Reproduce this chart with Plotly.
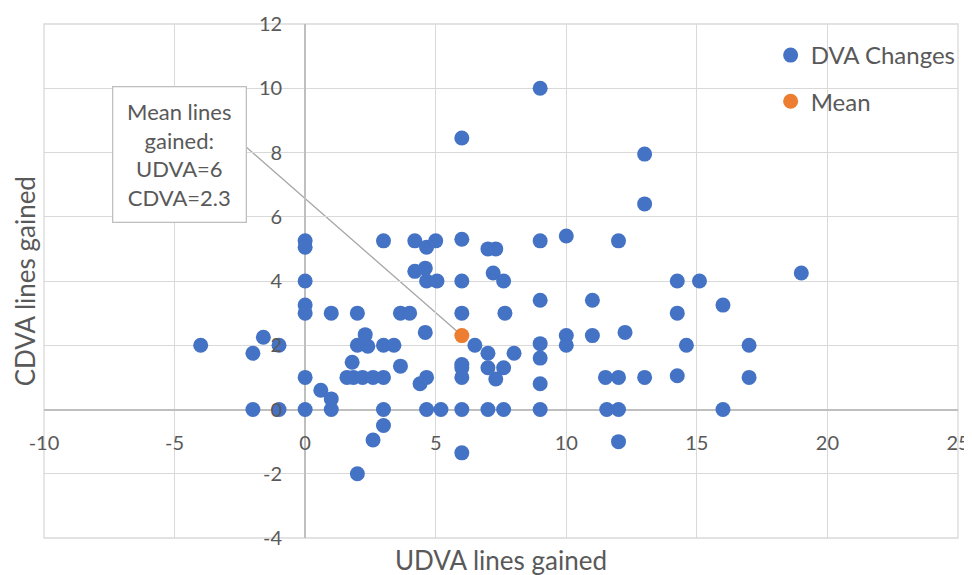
import plotly.graph_objects as go

# DVA changes (UDVA lines gained, CDVA lines gained)
udva = [-4, -2, -2, -1.6, -1, -1,
        0, 0, 0, 0, 0, 0, 0,
        0.6, 1, 1, 1,
        1.6, 1.8, 1.85, 2.2, 2.6, 3,
        2, 2, 2.3, 2.4, 2, 2.6,
        3, 3, 3.4, 3, 3,
        3.65, 4, 3.65,
        4.2, 4.6, 4.65, 5.05,
        4.2, 4.65, 5,
        4.6, 4.65, 4.4, 4.65, 5.2,
        6, 6, 6, 6, 6, 6, 6, 6, 6,
        6.5, 7, 7, 7.3, 7.6, 7, 7.6,
        7, 7.3, 7.2, 7.6, 7.65,
        8,
        9, 9, 9, 9, 9, 9, 9,
        10, 10, 10,
        11, 11, 11.5, 11.55,
        12, 12.25, 12, 12, 12,
        13, 13, 13,
        14.25, 14.25, 14.25, 14.6,
        15.1, 16, 16, 17, 17, 19]
cdva = [2, 1.75, 0, 2.25, 2, 0,
        5.25, 5.05, 4, 3.25, 3, 1, 0,
        0.6, 3, 0.33, 0,
        1, 1.47, 1, 1, 1, 1,
        3, 2, 2.33, 1.97, -2, -0.95,
        5.25, 2, 2, 0, -0.5,
        3, 3, 1.35,
        4.3, 4.4, 4, 4,
        5.25, 5.05, 5.25,
        2.4, 1, 0.8, 0, 0,
        8.45, 5.3, 4, 3, 1.4, 1.3, 1, 0, -1.35,
        2, 1.75, 1.3, 0.95, 1.3, 0, 0,
        5, 5, 4.25, 4, 3,
        1.75,
        10, 5.25, 3.4, 2.05, 1.6, 0.8, 0,
        5.4, 2.3, 2,
        3.4, 2.3, 1, 0,
        5.25, 2.4, 1, 0, -1,
        7.95, 6.4, 1,
        4, 3, 1.05, 2,
        4, 3.25, 0, 2, 1, 4.25]

mean_udva = [6]
mean_cdva = [2.3]

x_ticks = [-10, -5, 0, 5, 10, 15, 20, 25]
y_ticks = [-4, -2, 0, 2, 4, 6, 8, 10, 12]

# callout box centre and leader-line tail (data units)
callout_box = (-4.8, 7.95)
callout_tail = (-2.38, 8.26)

FONT = "Lato"
TXT = "#595959"
GRID = "#d9d9d9"

fig = go.Figure()
fig.add_trace(go.Scatter(x=udva, y=cdva, mode="markers", name="DVA Changes",
                         legendgroup="a",
                         marker=dict(color="#4472C4", size=15)))
fig.add_trace(go.Scatter(x=mean_udva, y=mean_cdva, mode="markers", name="Mean",
                         legendgroup="b",
                         marker=dict(color="#ED7D31", size=15)))

fig.update_layout(
    width=964, height=567,
    margin=dict(l=36, r=14, t=16, b=37, autoexpand=False),
    plot_bgcolor="white", paper_bgcolor="white",
    font=dict(family=FONT, color=TXT, size=20),
    showlegend=True,
    legend=dict(x=0.795, y=0.9825, xanchor="left", yanchor="top",
                font=dict(size=24, color=TXT), tracegroupgap=12,
                bgcolor="rgba(0,0,0,0)"),
    xaxis=dict(range=[-10, 25], tickvals=x_ticks, ticktext=[str(v) for v in x_ticks],
               showgrid=True, gridcolor=GRID, automargin=False,
               gridwidth=1.3, zeroline=True, zerolinecolor="#bfbfbf", zerolinewidth=1.5,
               anchor="free", position=0.25, ticks="", ticklabelstandoff=19,
               tickfont=dict(size=20, color=TXT), showline=False),
    yaxis=dict(range=[-4, 12], tickvals=y_ticks, ticktext=[str(v) for v in y_ticks],
               showgrid=True, gridcolor=GRID, automargin=False,
               gridwidth=1.3, zeroline=True, zerolinecolor="#bfbfbf", zerolinewidth=1.5,
               anchor="free", position=10 / 35, ticks="", ticklabelstandoff=23,
               tickfont=dict(size=20, color=TXT), showline=False),
    shapes=[dict(type="rect", xref="paper", yref="paper", x0=0, x1=1, y0=0, y1=1,
                 line=dict(color=GRID, width=1.3), layer="below"),
            dict(type="line", xref="x", yref="y",
                 x0=callout_tail[0], y0=callout_tail[1],
                 x1=mean_udva[0], y1=mean_cdva[0],
                 line=dict(color="#a6a6a6", width=1.3), layer="below")],
    annotations=[
        dict(text="CDVA lines gained", xref="paper", yref="paper", x=-0.0205, y=0.5,
             textangle=-90, showarrow=False, font=dict(size=26, color=TXT),
             xanchor="center", yanchor="middle"),
        dict(text="UDVA lines gained", xref="paper", yref="paper", x=0.5, y=-0.043,
             showarrow=False, font=dict(size=26, color=TXT),
             xanchor="center", yanchor="middle"),
        dict(text="Mean lines<br>gained:<br>UDVA=6<br>CDVA=2.3",
             x=callout_box[0], y=callout_box[1], xref="x", yref="y",
             showarrow=False, bgcolor="white", bordercolor="#bfbfbf", borderwidth=1.3,
             borderpad=5, width=122, height=124,
             font=dict(size=22, color=TXT), align="center"),
    ],
)

fig.write_html("out.html")
